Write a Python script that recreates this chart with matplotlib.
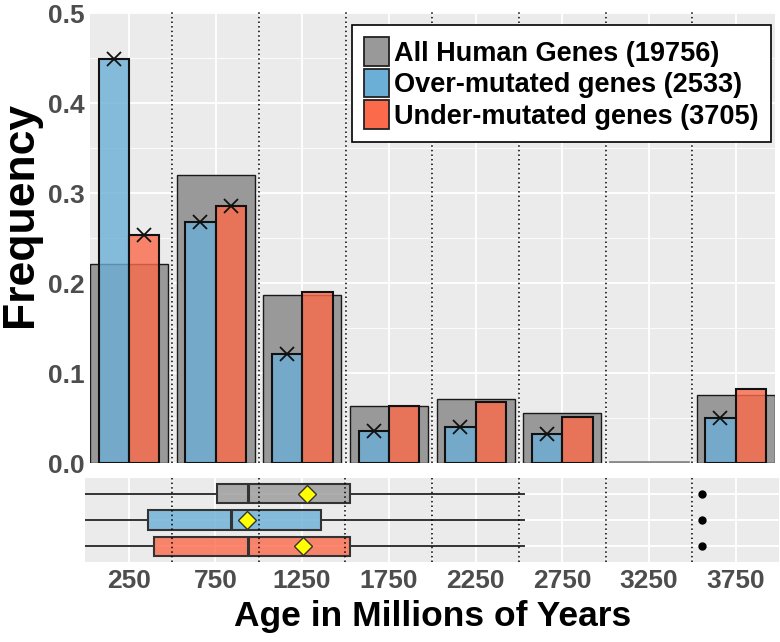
import matplotlib
matplotlib.use('Agg')
import matplotlib.pyplot as plt
from matplotlib.patches import Patch
from matplotlib.ticker import MultipleLocator, FixedLocator

plt.rcParams['font.family'] = ['Liberation Sans', 'DejaVu Sans']
plt.rcParams['font.weight'] = 'bold'

# ---------------- data ----------------
ages = [250, 750, 1250, 1750, 2250, 2750, 3250, 3750]
all_freq = [0.222, 0.321, 0.187, 0.064, 0.071, 0.056, 0.001, 0.076]
over_freq = [0.449, 0.268, 0.122, 0.036, 0.040, 0.033, 0.0, 0.050]
under_freq = [0.254, 0.286, 0.190, 0.064, 0.068, 0.052, 0.0, 0.083]
over_sig = [True, True, True, True, True, True, False, True]
under_sig = [True, True, False, False, False, False, False, False]
bin_edges = [500, 1000, 1500, 2000, 2500, 3000, 3500]

series_labels = ["All Human Genes (19756)",
                 "Over-mutated genes (2533)",
                 "Under-mutated genes (3705)"]

# boxplot summaries (All, Over, Under)
box_q1 = [760, 360, 396]
box_med = [936, 838, 936]
box_q3 = [1528, 1360, 1528]
box_mean = [1277, 934, 1257]
box_whislo = [0, 0, 0]
box_whishi = [2530, 2530, 2530]
box_outlier = [3555, 3555, 3555]

# ---------------- style ----------------
GRAY = '#999999'
BLUE = '#6BAED6'
RED = '#FB6A4A'
PANEL = '#EBEBEB'
TICKCOL = '#4D4D4D'

fig = plt.figure(figsize=(7.8, 6.42), dpi=100)
ax = fig.add_axes([0.11538, 0.27835, 0.8777, 0.70343])
axb = fig.add_axes([0.10936, 0.12508, 0.88936, 0.12991])

for a in (ax, axb):
    a.set_facecolor(PANEL)
    for s in a.spines.values():
        s.set_visible(False)
    a.tick_params(length=0, colors=TICKCOL, labelsize=19, pad=4)
    a.set_axisbelow(True)

# ---------------- top panel ----------------
binw = 500
gray_w = 0.9 * binw
sub_w = 0.35 * binw
gray_edges = ['#1a1a1a' if v > 0.002 else '#888888' for v in all_freq]
gray_lw = [1.0 if v > 0.002 else 2.0 for v in all_freq]
ax.bar(ages, all_freq, width=gray_w, color=GRAY, edgecolor=gray_edges,
       linewidth=gray_lw, zorder=2)
xo = [x - sub_w / 2 for x in ages]
xu = [x + sub_w / 2 for x in ages]
ax.bar(xo, over_freq, width=sub_w, color=(0x6B / 255, 0xAE / 255, 0xD6 / 255, 0.8),
       edgecolor=['#111111' if v > 0 else (0, 0, 0, 0) for v in over_freq],
       linewidth=1.5, zorder=3)
ax.bar(xu, under_freq, width=sub_w, color=(0xFB / 255, 0x6A / 255, 0x4A / 255, 0.8),
       edgecolor=['#111111' if v > 0 else (0, 0, 0, 0) for v in under_freq],
       linewidth=1.5, zorder=3)

ax.plot([x for x, s in zip(xo, over_sig) if s],
        [v for v, s in zip(over_freq, over_sig) if s],
        ls='none', marker='x', ms=10, mew=1.3, color='#111111', zorder=4)
ax.plot([x for x, s in zip(xu, under_sig) if s],
        [v for v, s in zip(under_freq, under_sig) if s],
        ls='none', marker='x', ms=10, mew=1.3, color='#111111', zorder=4)

for e in bin_edges:
    ax.axvline(e, color='black', lw=1.1, ls=(0, (1, 2)), zorder=1.5)

ax.set_xlim(25, 3975)
ax.set_ylim(0, 0.502)
ax.xaxis.set_major_locator(FixedLocator(ages))
ax.xaxis.set_minor_locator(FixedLocator(bin_edges))
ax.yaxis.set_minor_locator(MultipleLocator(0.05))
ax.set_yticks([0.0, 0.1, 0.2, 0.3, 0.4, 0.5])
ax.set_yticklabels(['0.0', '0.1', '0.2', '0.3', '0.4', '0.5'], fontweight='bold')
ax.tick_params(axis='x', labelbottom=False)
ax.tick_params(axis='y', which='minor', length=0)
ax.tick_params(axis='x', which='minor', length=0)
ax.grid(True, which='major', color='white', lw=1.3)
ax.grid(True, which='minor', color='white', lw=0.6)
ax.set_ylabel('Frequency', fontsize=32, fontweight='bold', color='black')
ax.yaxis.set_label_coords(-0.072, 0.55)

handles = [Patch(facecolor=GRAY, edgecolor='#222222', lw=1.3),
           Patch(facecolor=BLUE, edgecolor='#222222', lw=1.3),
           Patch(facecolor=RED, edgecolor='#222222', lw=1.3)]
leg = ax.legend(handles, series_labels, loc='upper right',
                bbox_to_anchor=(0.9947, 0.9705),
                prop={'weight': 'bold', 'size': 19.5},
                frameon=True, fancybox=False, framealpha=1,
                edgecolor='black', handlelength=0.9, handleheight=1.25,
                handletextpad=0.2, labelspacing=0.08, borderpad=0.45,
                borderaxespad=0)
leg.get_frame().set_linewidth(1.2)
leg.set_zorder(10)

# ---------------- bottom panel ----------------
rows = [3, 2, 1]
fills = [(0x99 / 255, 0x99 / 255, 0x99 / 255, 0.8),
         (0x6B / 255, 0xAE / 255, 0xD6 / 255, 0.8),
         (0xFB / 255, 0x6A / 255, 0x4A / 255, 0.8)]
stats = []
for i in range(3):
    stats.append(dict(q1=box_q1[i], med=box_med[i], q3=box_q3[i],
                      whislo=box_whislo[i], whishi=box_whishi[i],
                      fliers=[box_outlier[i]], mean=box_mean[i]))
for i in range(3):
    axb.bxp([stats[i]], positions=[rows[i]], widths=0.73, vert=False,
            patch_artist=True, showmeans=True, showcaps=False,
            boxprops=dict(facecolor=fills[i], edgecolor='#333333', lw=1.5),
            medianprops=dict(color='#333333', lw=2.2),
            whiskerprops=dict(color='#333333', lw=1.4),
            flierprops=dict(marker='o', markerfacecolor='black',
                            markeredgecolor='black', markersize=5),
            meanprops=dict(marker='D', markerfacecolor='#FFFF00',
                           markeredgecolor='#333333', markersize=9, mew=1.0),
            manage_ticks=False, zorder=3)

for e in bin_edges:
    axb.axvline(e, color='black', lw=1.1, ls=(0, (1, 2)), zorder=4)

axb.set_xlim(0, 4000)
axb.set_ylim(0.4, 3.6)
axb.xaxis.set_major_locator(FixedLocator(ages))
axb.xaxis.set_minor_locator(FixedLocator(bin_edges))
axb.set_xticklabels([str(a) for a in ages], fontweight='bold')
axb.set_yticks(rows)
axb.tick_params(axis='y', labelleft=False)
axb.tick_params(axis='x', which='minor', length=0)
axb.tick_params(axis='x', pad=5)
axb.grid(True, which='major', color='white', lw=1.3)
axb.grid(True, which='minor', axis='x', color='white', lw=0.6)
axb.set_xlabel('Age in Millions of Years', fontsize=25.5, fontweight='bold',
               color='black', labelpad=5)

fig.savefig('out.png', dpi=100, facecolor='white')
